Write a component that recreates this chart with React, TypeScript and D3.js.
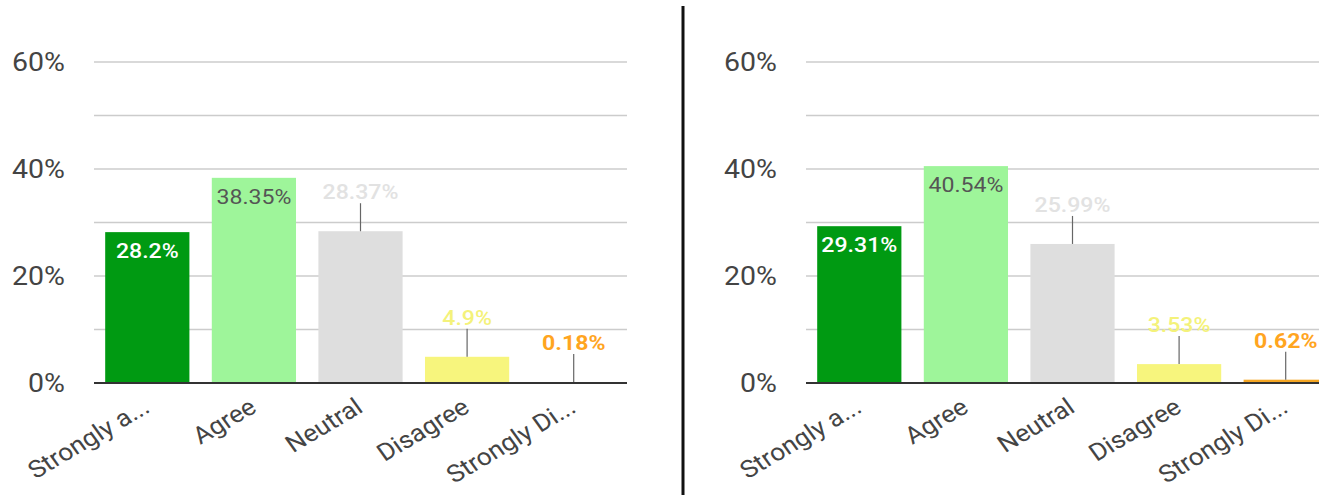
import React from "react";
import * as d3 from "d3";

const categories = ["Strongly a...", "Agree", "Neutral", "Disagree", "Strongly Di..."];
const leftValues = [28.2, 38.35, 28.37, 4.9, 0.18];
const rightValues = [29.31, 40.54, 25.99, 3.53, 0.62];
const gridTicks = [0, 10, 20, 30, 40, 50, 60];
const labeledTicks = [0, 20, 40, 60];
const barColors = ["#009a12", "#9ef59a", "#dedede", "#f7f57d", "#f5a623"];
const labelColors = ["#ffffff", "#555555", "#e2e2e2", "#f4f27a", "#ffa51f"];
const labelInside = [true, true, false, false, false];

const W = 1319;
const H = 495;
const FONT = "Roboto, 'Noto Sans', sans-serif";
const SX = 1.1;

function Panel({ values, x0, x1 }: { values: number[]; x0: number; x1: number }) {
  const x = d3.scaleBand<string>().domain(categories).range([x0, x1]).paddingInner(0.21).paddingOuter(0.105);
  const y = d3.scaleLinear().domain([0, 60]).range([383, 62]);
  const fmt = (v: number) => `${v}%`;
  return (
    <g>
      {gridTicks.map((t) => (
        <line key={"g" + t} x1={x0} x2={x1} y1={y(t)} y2={y(t)} stroke="#cccccc" strokeWidth={1.5} />
      ))}
      {labeledTicks.map((t) => (
        <text
          key={"t" + t}
          transform={`translate(${x0 - 29},${y(t) + 9}) scale(1.14,1)`}
          textAnchor="end"
          fontSize={25}
          fill="#444"
          fontFamily={FONT}
        >
          {t}%
        </text>
      ))}
      {values.map((v, i) => {
        const c = categories[i];
        const bx = x(c)!;
        const bw = x.bandwidth();
        const top = y(v);
        const cx = bx + bw / 2;
        return (
          <g key={c}>
            <rect x={bx} y={top} width={bw} height={y(0) - top} fill={barColors[i]} />
            {labelInside[i] ? (
              <text
                transform={`translate(${cx},${top + 26}) scale(${SX},1)`}
                textAnchor="middle"
                fontSize={21}
                fontWeight={i === 0 ? 500 : 400}
                fill={labelColors[i]}
                fontFamily={FONT}
              >
                {fmt(v)}
              </text>
            ) : (
              <g>
                <line x1={cx} x2={cx} y1={top} y2={top - 28} stroke="#666" strokeWidth={1.2} />
                <text
                  transform={`translate(${cx},${top - 32}) scale(${SX},1)`}
                  textAnchor="middle"
                  fontSize={21}
                  fontWeight={i === 4 ? 700 : 500}
                  fill={labelColors[i]}
                  fontFamily={FONT}
                >
                  {fmt(v)}
                </text>
              </g>
            )}
          </g>
        );
      })}
      <line x1={x0} x2={x1} y1={y(0)} y2={y(0)} stroke="#333" strokeWidth={2} />
      {categories.map((c) => {
        const cx = x(c)! + x.bandwidth() / 2 + 4;
        return (
          <text
            key={"x" + c}
            transform={`translate(${cx},${y(0) + 28}) scale(1.1,1) rotate(-33)`}
            textAnchor="end"
            fontSize={24}
            fill="#444"
            fontFamily={FONT}
          >
            {c}
          </text>
        );
      })}
    </g>
  );
}

export default function App() {
  return (
    <svg width={W} height={H} style={{ position: "absolute", left: 0, top: 0, background: "#fff" }}>
      <rect x={0} y={0} width={W} height={H} fill="#fff" />
      <Panel values={leftValues} x0={94} x1={627} />
      <Panel values={rightValues} x0={806} x1={1339} />
      <line x1={683} x2={683} y1={6} y2={495} stroke="#111" strokeWidth={3} />
    </svg>
  );
}
